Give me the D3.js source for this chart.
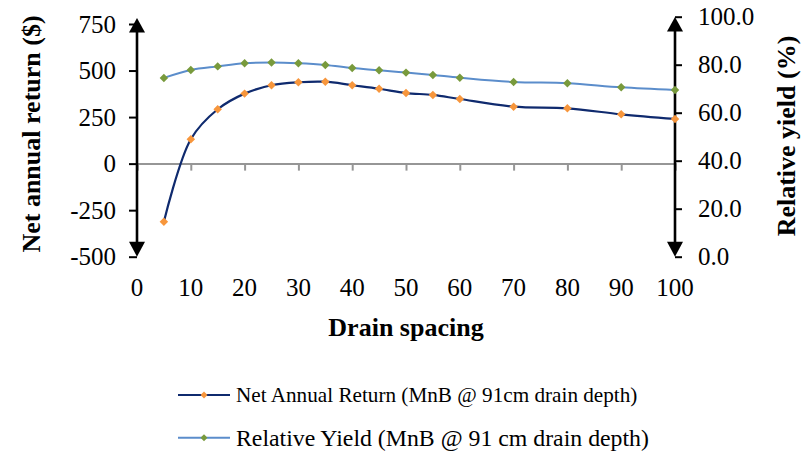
<!DOCTYPE html>
<html>
<head>
<meta charset="utf-8">
<script src="https://cdn.jsdelivr.net/npm/d3@7"></script>
<style>
  html, body { margin: 0; padding: 0; background: #fff; }
  svg { display: block; font-family: "Liberation Serif", "Times New Roman", serif; }
</style>
</head>
<body>
<svg id="chart" width="808" height="458"></svg>
<script>
// Drain spacing (x) and the two measured series
const spacing   = [5, 10, 15, 20, 25, 30, 35, 40, 45, 50, 55, 60, 70, 80, 90, 100];
const netReturn = [-312, 131, 292, 376, 421, 437, 440, 421, 402, 379, 369, 347, 306, 297, 265, 240];
const relYield  = [74.5, 77.8, 79.3, 80.6, 80.9, 80.6, 79.9, 78.6, 77.7, 76.7, 75.7, 74.6, 72.8, 72.3, 70.6, 69.5];

const xTicks      = [0, 10, 20, 30, 40, 50, 60, 70, 80, 90, 100];
const leftTicks   = [-500, -250, 0, 250, 500, 750];
const rightTicks  = [0, 20, 40, 60, 80, 100];

const seriesNames = [
  "Net Annual Return (MnB @ 91cm drain depth)",
  "Relative Yield (MnB @ 91 cm drain depth)"
];

const svg = d3.select("#chart");

const x  = d3.scaleLinear().domain([0, 100]).range([137, 675]);
const yL = d3.scaleLinear().domain([-500, 750]).range([256.7, 24]);
const yR = d3.scaleLinear().domain([0, 100]).range([256.7, 16.7]);

const navy = "#0f2a6e", lightBlue = "#5b8dcb";
const orange = "#f7963c", green = "#789a3c";

// Horizontal axis through zero
const xAxis = d3.axisBottom(x).tickValues(xTicks).tickSize(7).tickFormat("");
const gx = svg.append("g").attr("transform", `translate(0,${yL(0)})`).call(xAxis);
gx.select(".domain").attr("stroke", "#969696").attr("stroke-width", 2);
gx.selectAll(".tick line").attr("stroke", "#969696").attr("stroke-width", 2);

// x tick labels sit below the plot
svg.append("g").selectAll("text").data(xTicks).join("text")
  .attr("x", d => x(d)).attr("y", 296)
  .attr("text-anchor", "middle").attr("font-size", 25).attr("fill", "#000")
  .text(d => d);

// Left axis (plain hyphen for negatives)
const gl = svg.append("g").attr("transform", `translate(${x(0)},0)`)
  .call(d3.axisLeft(yL).tickValues(leftTicks).tickSize(8).tickPadding(13).tickFormat(d => String(d)));
gl.attr("font-family", null);
gl.select(".domain").remove();
gl.selectAll(".tick line").attr("stroke", "#000").attr("stroke-width", 2);
gl.selectAll(".tick text").attr("font-size", 25).attr("fill", "#000");

// Right axis
const gr = svg.append("g").attr("transform", `translate(${x(100)},0)`)
  .call(d3.axisRight(yR).tickValues(rightTicks).tickSize(7).tickPadding(16).tickFormat(d => d.toFixed(1)));
gr.attr("font-family", null);
gr.select(".domain").remove();
gr.selectAll(".tick line").attr("stroke", "#000").attr("stroke-width", 2);
gr.selectAll(".tick text").attr("font-size", 25).attr("fill", "#000");

// Vertical axis lines with arrowheads at both ends
function arrowAxis(ax, yTop, yBottom) {
  svg.append("line").attr("x1", ax).attr("x2", ax).attr("y1", yTop + 6).attr("y2", yBottom - 6)
    .attr("stroke", "#000").attr("stroke-width", 2.6);
  svg.append("path").attr("d", `M${ax},${yTop} L${ax - 8},${yTop + 14.5} L${ax + 8},${yTop + 14.5} Z`).attr("fill", "#000");
  svg.append("path").attr("d", `M${ax},${yBottom} L${ax - 8},${yBottom - 15} L${ax + 8},${yBottom - 15} Z`).attr("fill", "#000");
}
arrowAxis(x(0), 18, yL(-500));
arrowAxis(x(100), 17, yR(0));

// Smoothed series lines
const curve = d3.curveCatmullRom.alpha(0.5);
const lineL = d3.line().x((d, i) => x(spacing[i])).y(d => yL(d)).curve(curve);
const lineR = d3.line().x((d, i) => x(spacing[i])).y(d => yR(d)).curve(curve);

svg.append("path").attr("d", lineR(relYield)).attr("fill", "none")
  .attr("stroke", lightBlue).attr("stroke-width", 2);
svg.append("path").attr("d", lineL(netReturn)).attr("fill", "none")
  .attr("stroke", navy).attr("stroke-width", 2.2);

// Diamond markers
const diamond = d3.symbol().type(d3.symbolSquare).size(36);
svg.append("g").selectAll("path").data(relYield).join("path")
  .attr("d", diamond)
  .attr("transform", (d, i) => `translate(${x(spacing[i])},${yR(d)}) rotate(45)`)
  .attr("fill", green);
svg.append("g").selectAll("path").data(netReturn).join("path")
  .attr("d", diamond)
  .attr("transform", (d, i) => `translate(${x(spacing[i])},${yL(d)}) rotate(45)`)
  .attr("fill", orange);

// Axis titles
svg.append("text").attr("transform", "translate(40,134) rotate(-90)")
  .attr("text-anchor", "middle").attr("font-size", 26).attr("font-weight", "bold")
  .text("Net annual return ($)");
svg.append("text").attr("transform", "translate(795,136) rotate(-90)")
  .attr("text-anchor", "middle").attr("font-size", 26).attr("font-weight", "bold")
  .text("Relative yield (%)");
svg.append("text").attr("x", 406).attr("y", 336)
  .attr("text-anchor", "middle").attr("font-size", 26).attr("font-weight", "bold")
  .text("Drain spacing");

// Legend
const legend = [
  { name: seriesNames[0], stroke: navy, marker: orange, y: 395, textY: 402, size: 21.2 },
  { name: seriesNames[1], stroke: lightBlue, marker: green, y: 437.7, textY: 446, size: 23.8 }
];
const lg = svg.append("g").selectAll("g").data(legend).join("g");
lg.append("line").attr("x1", 178).attr("x2", 230).attr("y1", d => d.y).attr("y2", d => d.y)
  .attr("stroke", d => d.stroke).attr("stroke-width", 2);
lg.append("path").attr("d", d3.symbol().type(d3.symbolSquare).size(24))
  .attr("transform", d => `translate(204,${d.y}) rotate(45)`).attr("fill", d => d.marker);
lg.append("text").attr("x", 236).attr("y", d => d.textY).attr("font-size", d => d.size)
  .text(d => d.name);
</script>
</body>
</html>
